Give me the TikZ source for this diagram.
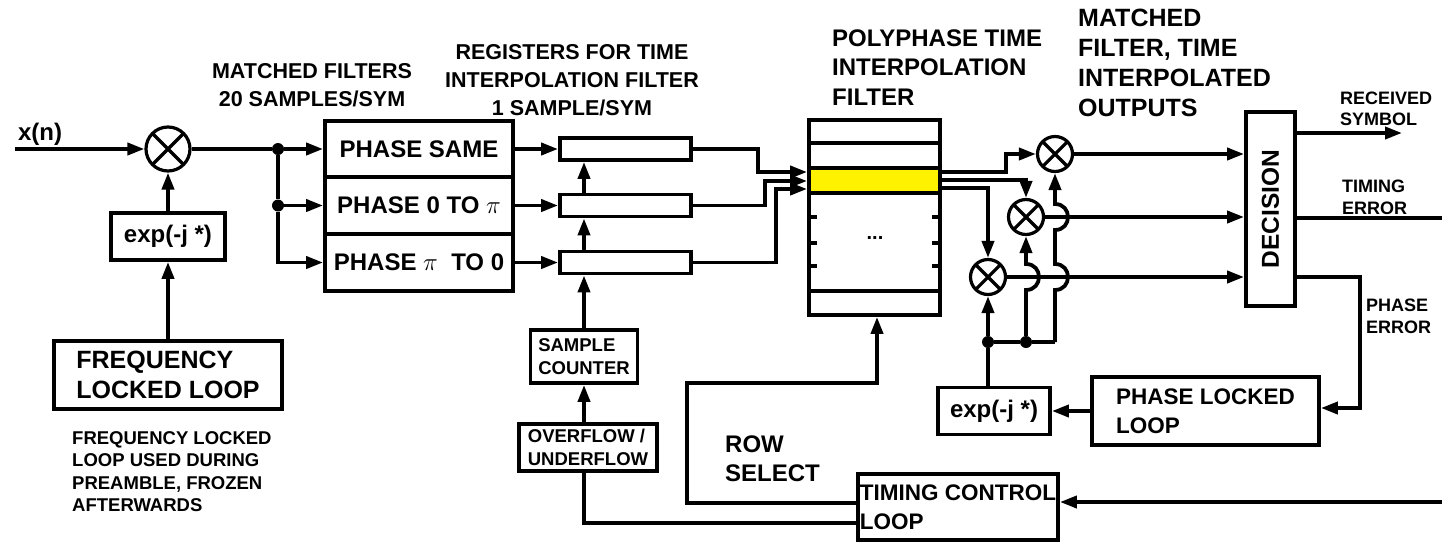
\documentclass[tikz,border=0pt]{standalone}
\usepackage{fontspec}
\setmainfont{Liberation Sans}
\usetikzlibrary{arrows.meta}
\begin{document}
\begin{tikzpicture}[x=1pt,y=-1pt,
  ln/.style={line width=3.8pt},
  arr/.style={line width=3.8pt,-{Triangle[length=17pt,width=12pt]}},
  box/.style={draw,line width=3.8pt,inner sep=0pt,fill=white,align=left},
  mult/.style={circle,draw,line width=3.2pt,inner sep=0pt,fill=white,
    path picture={\draw[line width=3.2pt] (path picture bounding box.north west) -- (path picture bounding box.south east)
      (path picture bounding box.south west) -- (path picture bounding box.north east);}},
  dot/.style={circle,fill,inner sep=0pt,minimum size=12pt},
  lbl/.style={inner sep=0pt,align=left},
  fXL/.style={font=\fontsize{25}{30}\selectfont\bfseries},
  fL/.style={font=\fontsize{24}{29}\selectfont\bfseries},
  fM/.style={font=\fontsize{22.5}{29}\selectfont\bfseries},
  fT/.style={font=\fontsize{21.5}{28}\selectfont\bfseries},
  fS/.style={font=\fontsize{18.5}{22.5}\selectfont\bfseries}
]
\useasboundingbox (0,0) rectangle (1442,544);

% ---------- labels ----------
\node[lbl,fL] (xn) at (40,134) {x(n)};
\node[lbl,fT,align=center] (lmf) at (312,85) {MATCHED FILTERS\\20 SAMPLES/SYM};
\node[lbl,fT,align=center] (lreg) at (572,80) {REGISTERS FOR TIME\\INTERPOLATION FILTER\\1 SAMPLE/SYM};
\node[lbl,anchor=west,font=\fontsize{24}{29.5}\selectfont\bfseries] (lpoly) at (832,67.5) {POLYPHASE TIME\\INTERPOLATION\\FILTER};
\node[lbl,fXL,anchor=west] (lout) at (1078,63) {MATCHED\\FILTER, TIME\\INTERPOLATED\\OUTPUTS};
\node[lbl,fS,anchor=west] (lnote) at (72,471.5) {FREQUENCY LOCKED\\LOOP USED DURING\\PREAMBLE, FROZEN\\AFTERWARDS};
\node[lbl,fL,anchor=west] (lrow) at (725,459) {ROW\\SELECT};
\node[lbl,anchor=west,font=\fontsize{18}{21}\selectfont\bfseries] (lrs) at (1340,108.5) {RECEIVED\\SYMBOL};
\node[lbl,anchor=west,font=\fontsize{18}{22}\selectfont\bfseries] (lte) at (1342,197) {TIMING\\ERROR};
\node[lbl,anchor=west,font=\fontsize{18}{22}\selectfont\bfseries] (lpe) at (1366,316) {PHASE\\ERROR};

% ---------- blocks ----------
\node[mult,minimum size=44pt] (m1) at (168,149) {};
\node[box,fL,minimum width=114pt,minimum height=47pt] (exp1) at (168,236.5) {exp(-j *)};
\node[box,fXL,minimum width=228pt,minimum height=68pt] (fll) at (168,375) {FREQUENCY\\LOCKED LOOP};

\node[box,fL,minimum width=188pt,minimum height=56pt] (mf1) at (419,149) {PHASE SAME};
\node[box,fL,minimum width=188pt,minimum height=57pt] (mf2) at (419,205.5) {PHASE 0 TO $\pi$};
\node[box,fL,minimum width=188pt,minimum height=57pt] (mf3) at (419,262.5) {PHASE $\pi$\ \ TO 0};

\node[box,minimum width=131pt,minimum height=22pt] (reg1) at (625.5,149) {};
\node[box,minimum width=131pt,minimum height=22pt] (reg2) at (625.5,205.5) {};
\node[box,minimum width=131pt,minimum height=22pt] (reg3) at (625.5,262.5) {};

\node[box,fS,minimum width=107pt,minimum height=53pt] (sc) at (584,356.5) {SAMPLE\\COUNTER};
\node[box,fS,minimum width=138pt,minimum height=47pt] (ovf) at (588,447.5) {OVERFLOW /\\UNDERFLOW};

% polyphase filter
\fill[yellow] (809,168) rectangle (940,193);
\node[draw,line width=3.8pt,inner sep=0pt,minimum width=131pt,minimum height=195pt] (poly) at (874.5,217.5) {};
\foreach \yy in {143,168,193,291} \draw[ln] (809,\yy) -- (940,\yy);
\foreach \yy in {217,243,266} {\draw[ln] (809,\yy) -- (817,\yy); \draw[ln] (932,\yy) -- (940,\yy);}
\node[lbl,font=\fontsize{20}{24}\selectfont\bfseries] (dots) at (875,238) {...};

\node[mult,minimum size=35pt] (mt) at (1055,154) {};
\node[mult,minimum size=35pt] (mm) at (1026,217) {};
\node[mult,minimum size=35pt] (mb) at (988,277) {};

\node[box,minimum width=49pt,minimum height=194pt] (dec) at (1270.5,209) {};
\node[lbl,font=\fontsize{24.5}{29}\selectfont\bfseries,rotate=90] (dect) at (dec.center) {DECISION};

\node[box,fL,minimum width=112pt,minimum height=47pt] (exp2) at (994,411) {exp(-j *)};
\node[box,fM,minimum width=227pt,minimum height=68pt] (pll) at (1205.5,411) {PHASE LOCKED\\LOOP};
\node[box,fM,minimum width=200pt,minimum height=66pt] (tcl) at (958,507) {TIMING CONTROL\\LOOP};

% ---------- coordinates ----------
\coordinate (in) at (15,149);
\node[dot] (d1) at (278,149) {};
\node[dot] (d2) at (278,205.5) {};
\node[dot] (db) at (988,342) {};
\node[dot] (dm) at (1026,342) {};
\coordinate (rs) at (1402,133);
\coordinate (te) at (1442,218);
\coordinate (tin) at (1442,502);

% ---------- connectors ----------
\draw[arr] (in) -- (m1.west);
\draw[arr] (fll.north) -- (exp1.south);
\draw[arr] (exp1.north) -- (m1.south);
\draw[ln] (m1.east) -- (d1);
\draw[arr] (d1) -- (mf1.west);
\draw[ln] (d1) -- (d2);
\draw[arr] (d2) -- (mf2.west);
\draw[arr] (d2) |- (mf3.west);

\draw[arr] (mf1.east) -- (reg1.west);
\draw[arr] (mf2.east) -- (reg2.west);
\draw[arr] (mf3.east) -- (reg3.west);

\draw[arr] (sc.north |- reg3.north) -- (sc.north |- reg2.south);
\draw[arr] (sc.north |- reg2.north) -- (sc.north |- reg1.south);
\draw[arr] (sc.north) -- (sc.north |- reg3.south);
\draw[arr] (ovf.north -| sc.south) -- (sc.south);
\draw[ln] (ovf.south -| sc.south) |- ([yshift=-16pt]tcl.west);
\draw[arr] ([yshift=4pt]tcl.west) -| (687,383) -| ([xshift=2.5pt]poly.south);
\draw[arr] (tin) -- ([yshift=5pt]tcl.east);

\draw[arr] (reg1.east) -| (758,172) -- (poly.west |- 0,172);
\draw[arr] (reg2.east) -| (765,181) -- (poly.west |- 0,181);
\draw[arr] (reg3.east) -| (776,189) -- (poly.west |- 0,189);

\draw[arr] (poly.east |- 0,172) -| (1006,154) -- (mt.west);
\draw[arr] (poly.east |- 0,180) -| (mm.north);
\draw[arr] (poly.east |- 0,188) -| (mb.north);

\draw[arr] (mt.east) -- (dec.west |- mt.east);
\draw[arr] (mm.east) -- (dec.west |- mm.east);
\draw[arr] (mb.east) -- (dec.west |- mb.east);

\draw[ln] (exp2.north -| db) -- (db);
\draw[arr] (db) -- (mb.south);
\draw[ln] (db) -- (dm) -- (mt.south |- dm);
\draw[arr] (dm) -- (1026,290) .. controls (1043.3,290) and (1043.3,264) .. (1026,264) -- (mm.south);
\draw[arr] (mt.south |- dm) -- (1055,290) .. controls (1072.3,290) and (1072.3,264) .. (1055,264)
   -- (1055,230) .. controls (1072.3,230) and (1072.3,204) .. (1055,204) -- (mt.south);

\draw[arr] (pll.west) -- (exp2.east);
\draw[arr] (dec.east |- 0,133) -- (rs);
\draw[ln] (dec.east |- 0,218) -- (te);
\draw[arr] (dec.east |- 0,277) -| (1360,408) -- (pll.east |- 0,408);
\end{tikzpicture}
\end{document}
